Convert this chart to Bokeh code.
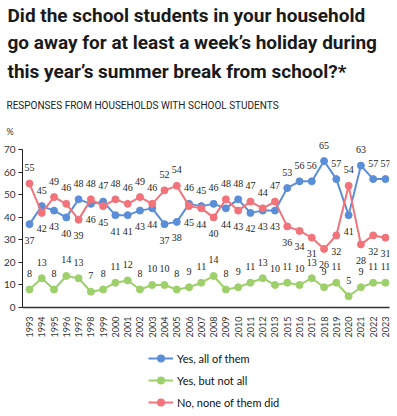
import math
from bokeh.plotting import figure
from bokeh.layouts import column
from bokeh.models import (Range1d, FixedTicker, Title, LabelSet, ColumnDataSource,
                          Legend, LegendItem)
from bokeh.embed import file_html
from bokeh.resources import INLINE

years = ["1993", "1994", "1995", "1996", "1997", "1998", "1999", "2000", "2001", "2002",
         "2003", "2004", "2005", "2006", "2007", "2008", "2009", "2010", "2011", "2012",
         "2013", "2015", "2016", "2017", "2018", "2019", "2020", "2021", "2022", "2023"]
yes_all = [37, 45, 43, 40, 48, 46, 47, 41, 41, 43, 44, 37, 38, 46, 45, 46, 44, 48, 42, 43,
           43, 53, 56, 56, 65, 57, 41, 63, 57, 57]
yes_some = [8, 13, 8, 14, 13, 7, 8, 11, 12, 8, 10, 10, 8, 9, 11, 14, 8, 9, 11, 13,
            10, 11, 10, 13, 9, 11, 5, 9, 11, 11]
none_did = [55, 42, 49, 46, 39, 48, 45, 48, 46, 49, 46, 52, 54, 45, 44, 40, 48, 43, 47, 44,
            47, 36, 34, 31, 26, 32, 54, 28, 32, 31]
series_names = ["Yes, all of them", "Yes, but not all", "No, none of them did"]
y_ticks = [0, 10, 20, 30, 40, 50, 60, 70]

title_lines = ["Did the school students in your household",
               "go away for at least a week\u2019s holiday during",
               "this year\u2019s summer break from school?*"]
subtitle = "RESPONSES FROM HOUSEHOLDS WITH SCHOOL STUDENTS"

BLUE = "#5B8ED8"
GREEN = "#9DD06A"
RED = "#F2737A"
LABEL_FONT = "Lato"

idx = list(range(len(years)))
series = [(yes_all, BLUE), (yes_some, GREEN), (none_did, RED)]

p = figure(title=None, frame_width=367, frame_height=171,
           min_border_left=21, min_border_right=8, min_border_top=0, min_border_bottom=30,
           x_range=Range1d(-0.57, 29.33), y_range=Range1d(0, 75.9),
           output_backend="svg", toolbar_location=None)
p.outline_line_color = None
p.xgrid.grid_line_color = None
p.ygrid.grid_line_color = None
p.background_fill_color = "white"

# axes
p.yaxis.ticker = FixedTicker(ticks=y_ticks)
p.yaxis.bounds = (0, 70)
p.yaxis.axis_line_color = "#222222"
p.yaxis.axis_line_width = 1
p.yaxis.major_tick_out = 4
p.yaxis.major_tick_in = 0
p.yaxis.major_tick_line_color = "#222222"
p.yaxis.minor_tick_line_color = None
p.yaxis.major_label_standoff = 3
p.yaxis.major_label_text_font = LABEL_FONT
p.yaxis.major_label_text_font_size = "10px"
p.yaxis.major_label_text_color = "#333333"

p.xaxis.ticker = FixedTicker(ticks=idx)
p.xaxis.major_label_overrides = {i: y for i, y in zip(idx, years)}
p.xaxis.major_label_orientation = math.pi / 2
p.xaxis.axis_line_color = "#333333"
p.xaxis.axis_line_width = 1.5
p.xaxis.major_tick_line_color = None
p.xaxis.minor_tick_line_color = None
p.xaxis.major_label_standoff = 3
p.xaxis.major_label_text_font = LABEL_FONT
p.xaxis.major_label_text_font_size = "9px"
p.xaxis.major_label_text_color = "#333333"

# series
off_blue = [16 if a >= n else -16 for a, n in zip(yes_all, none_did)]
off_red = [-o for o in off_blue]
off_green = [16] * len(years)

for (vals, col), offs in zip(series, [off_blue, off_green, off_red]):
    src = ColumnDataSource(dict(x=idx, y=vals, lab=[str(v) for v in vals], off=offs))
    p.line("x", "y", source=src, line_color=col, line_width=2)
    p.scatter("x", "y", source=src, size=7, fill_color=col, line_color=col)
    ls = LabelSet(x="x", y="y", text="lab", source=src, y_offset="off",
                  text_align="center", text_baseline="middle",
                  text_font=LABEL_FONT, text_font_size="10px", text_color="#262626")
    p.add_layout(ls)

# titles (added from the frame outward)
p.add_layout(Title(text="%", text_font=LABEL_FONT, text_font_size="9px",
                   text_font_style="normal", text_color="#333333",
                   standoff=0, offset=-16), "above")
p.add_layout(Title(text=subtitle, text_font="Roboto", text_font_size="10px",
                   text_font_style="normal", text_color="#222222",
                   standoff=25, offset=-16), "above")
for line, so in zip(reversed(title_lines), [6, 2, 2]):
    p.add_layout(Title(text=line, text_font="Roboto", text_font_style="bold",
                       text_font_size="19px", text_color="#1a1a1a",
                       standoff=so, offset=-15), "above")

# legend strip below the chart: same series, ranges chosen so only the legend shows
lg = figure(title=None, width=396, height=78, x_range=Range1d(-3, -2), y_range=Range1d(-3, -2),
            x_axis_type=None, y_axis_type=None, min_border=0,
            output_backend="svg", toolbar_location=None)
lg.outline_line_color = None
lg.xgrid.grid_line_color = None
lg.ygrid.grid_line_color = None
items = []
for name, (vals, col) in zip(series_names, series):
    r1 = lg.line(x=idx, y=vals, line_color=col, line_width=2)
    r2 = lg.scatter(x=idx, y=vals, size=4, fill_color=col, line_color=None)
    items.append(LegendItem(label=name, renderers=[r1, r2], index=0))
legend = Legend(items=items, location=(126, 6), orientation="vertical",
                glyph_width=25, glyph_height=20, label_height=20, spacing=2,
                padding=0, margin=0, label_standoff=4,
                border_line_alpha=0, background_fill_alpha=0,
                label_text_font=LABEL_FONT, label_text_font_size="11px",
                label_text_color="#111111")
lg.add_layout(legend)

open("out.html", "w").write(file_html(column(p, lg, spacing=0), INLINE))
